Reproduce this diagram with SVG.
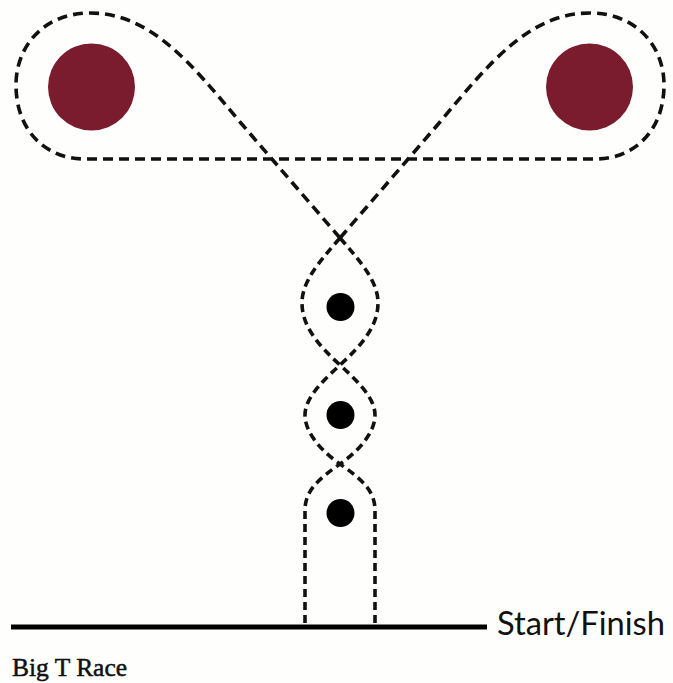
<svg xmlns="http://www.w3.org/2000/svg" width="673" height="683" viewBox="0 0 673 683">
  <style>
    .loop { fill: none; stroke: #111; stroke-width: 3.6; stroke-dasharray: 10 6; }
    .braid { fill: none; stroke: #111; stroke-width: 3.6; stroke-dasharray: 8 5; }
    .pylon { fill: #7a1b2e; }
    .dot { fill: #000; }
    .label { font-family: Lato, "Liberation Sans", sans-serif; font-size: 32px; fill: #111; }
    .title { font-family: "Liberation Serif", serif; font-size: 25px; fill: #111; stroke: #111; stroke-width: 0.5; }
  </style>
  <rect width="673" height="683" fill="#fefefc"/>
  <g id="connectors">
    <path class="loop" d="M340,238 L240,122 C190,62 150,13 90,13 C45,13 16,45 16,85 C16,130 45,159 85,159 L595,159 C635,159 664,130 664,85 C664,45 635,13 590,13 C530,13 490,62 440,122 L340,238"/>
    <path class="braid" d="M340,238 C362,263 378,282 378,303 C378,326 362,345 340,365 C318,385 305,400 305,415 C305,432 320,450 340,464 C360,478 375,490 375,510 L375,625"/>
    <path class="braid" d="M340,238 C318,263 302,282 302,303 C302,326 318,345 340,365 C362,385 375,400 375,415 C375,432 360,450 340,464 C320,478 305,490 305,510 L305,625"/>
  </g>
  <g id="pylon-left"><circle class="pylon" cx="91.5" cy="87" r="43.5"/></g>
  <g id="pylon-right"><circle class="pylon" cx="589.5" cy="87" r="43.5"/></g>
  <g id="marker-1"><circle class="dot" cx="340.5" cy="307" r="14"/></g>
  <g id="marker-2"><circle class="dot" cx="340.5" cy="415" r="14"/></g>
  <g id="marker-3"><circle class="dot" cx="340.5" cy="513" r="14"/></g>
  <g id="start-finish">
    <line x1="11" y1="627" x2="487" y2="627" stroke="#000" stroke-width="5"/>
    <text class="label" x="497" y="635" textLength="168" lengthAdjust="spacingAndGlyphs">Start/Finish</text>
  </g>
  <text class="title" x="12" y="676" textLength="115" lengthAdjust="spacingAndGlyphs">Big T Race</text>
</svg>
